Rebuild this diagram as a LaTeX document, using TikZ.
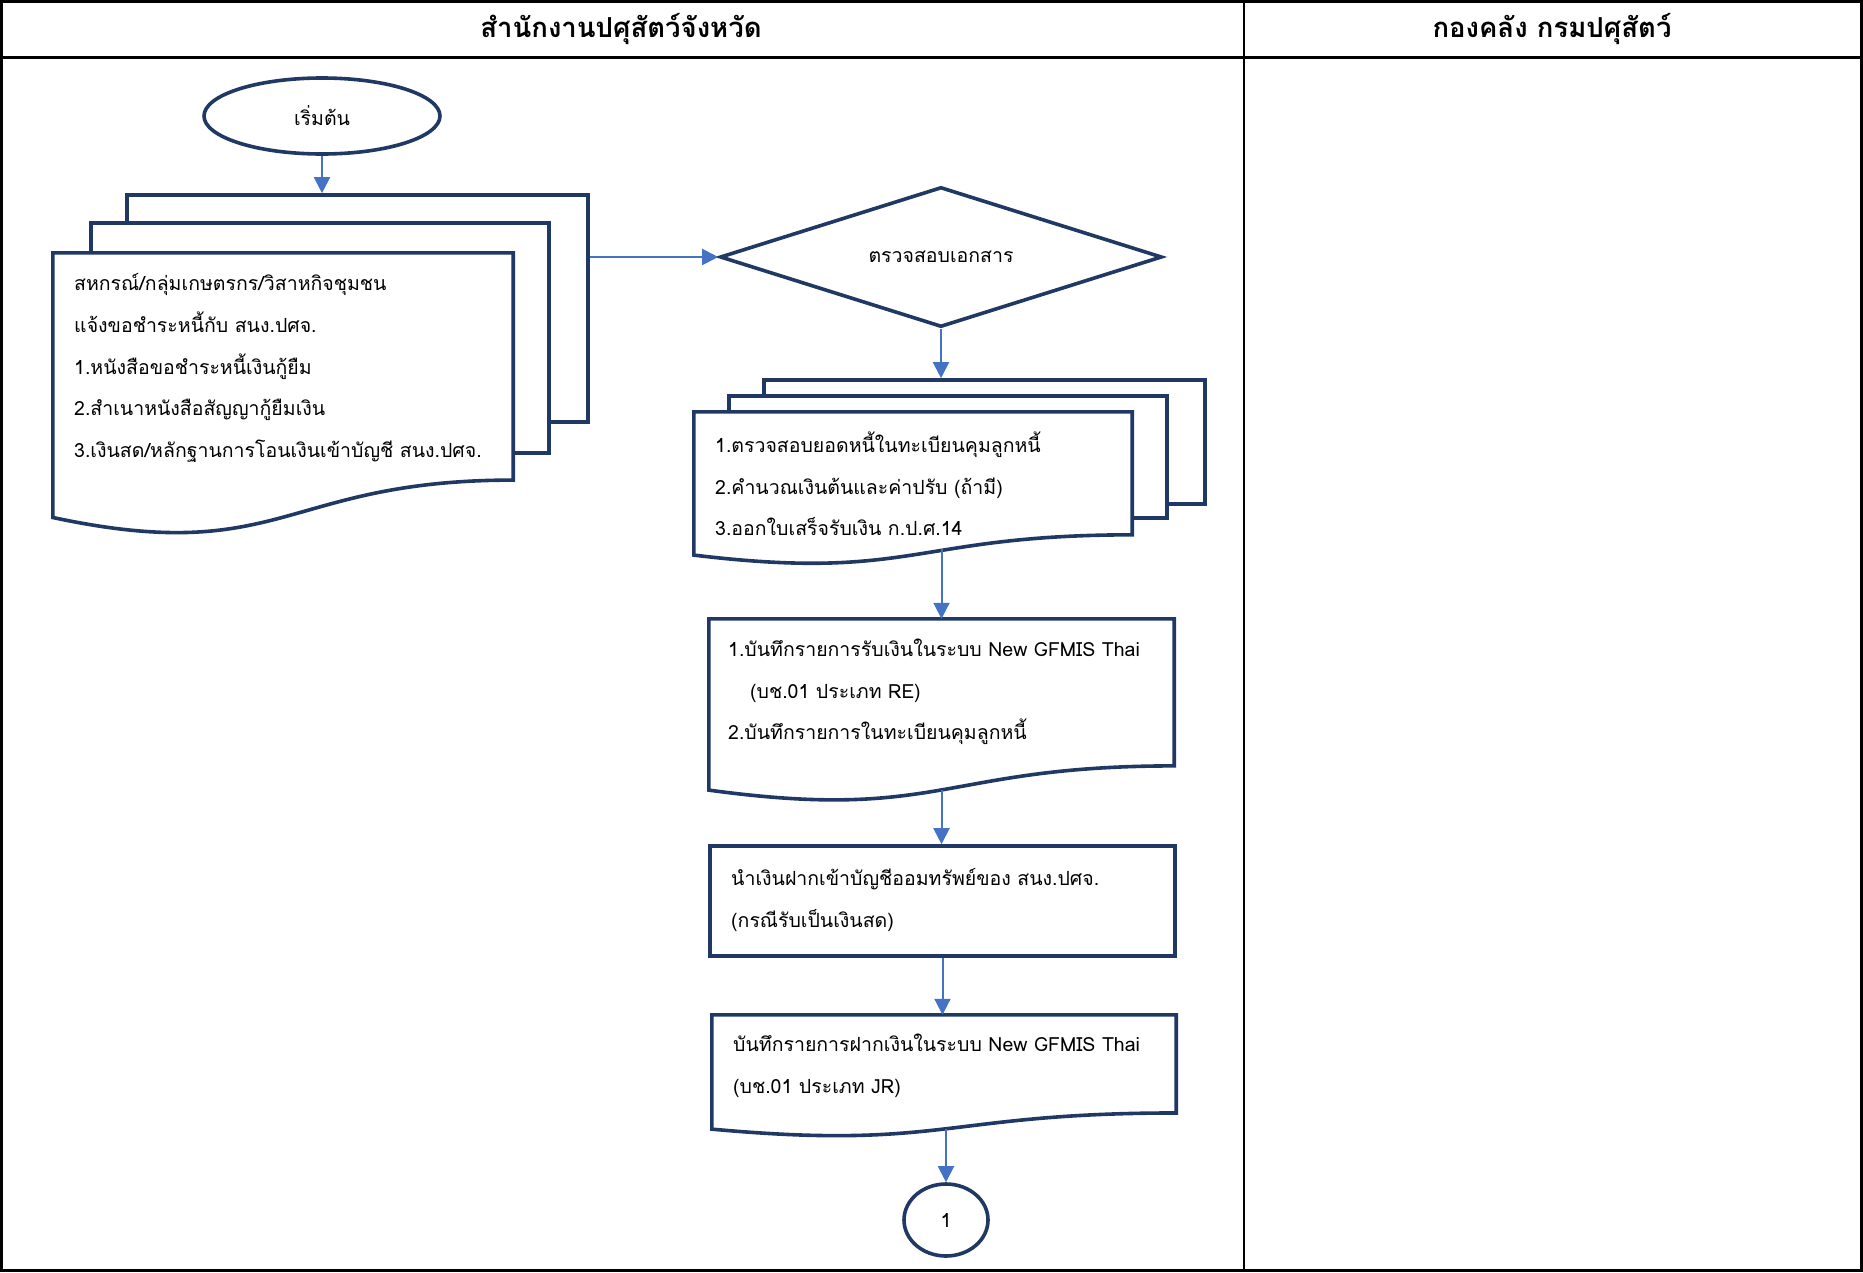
\documentclass[tikz,border=0pt]{standalone}
\usepackage{fontspec}
\setmainfont[Script=Thai]{Loma}
\usetikzlibrary{shapes.geometric,arrows.meta,calc}
\definecolor{navy}{HTML}{1F3864}
\definecolor{flecha}{HTML}{4472C4}

% hoja con borde ondulado
\newcommand{\hoja}[1]{%
  \draw[sheet] (#1.north west) -- (#1.north east)
    -- ($(#1.north east)!0.802!(#1.south east)$)
    .. controls ($(#1.north)!0.802!(#1.south)$) and ($(#1.north)!1.1075!(#1.south)$)
    .. ($(#1.north west)!0.934!(#1.south west)$) -- cycle;}

\begin{document}
\begin{tikzpicture}[x=1pt,y=-1pt,
    sheet/.style={draw=navy,line width=3.6pt,fill=white},
    box/.style={sheet,rectangle,inner sep=0pt},
    frame/.style={rectangle,inner sep=0pt},
    lbl/.style={font=\fontsize{19.5}{24}\selectfont},
    txt/.style={align=left,inner sep=0pt,anchor=west,font=\fontsize{19.5}{41.6}\selectfont},
    flow/.style={draw=flecha,line width=2pt,-{Triangle[length=16pt,width=16pt]}},
    grid/.style={draw=black,line width=2.2pt}]
    \useasboundingbox (0,0) rectangle (1863,1272);

    % Tabla
    \draw[grid] (1.5,1.5) rectangle (1861.5,1270.5);
    \draw[grid,line width=3pt] (0,57) -- (1863,57);
    \draw[grid] (1244,0) -- (1244,1272);
    \node[font=\fontsize{27.5}{32}\selectfont\bfseries] (hdl) at (621,29) {สำนักงานปศุสัตว์จังหวัด};
    \node[font=\fontsize{27.5}{32}\selectfont\bfseries] (hdr) at (1552,29) {กองคลัง กรมปศุสัตว์};

    % Inicio
    \node[sheet,lbl,ellipse,inner sep=0pt,minimum width=236pt,minimum height=76pt] (start) at (322,116) {เริ่มต้น};

    % Documentos del solicitante
    \node[box,minimum width=461pt,minimum height=227pt] (m1b) at (357.5,308.5) {};
    \node[box,minimum width=458pt,minimum height=230pt] (m1m) at (320,338) {};
    \node[frame,minimum width=460pt,minimum height=283pt] (d1) at (283,394.5) {};
    \hoja{d1}
    \node[txt] (d1t) at (74,368) {สหกรณ์/กลุ่มเกษตรกร/วิสาหกิจชุมชน\\
        แจ้งขอชำระหนี้กับ สนง.ปศจ.\\
        1.หนังสือขอชำระหนี้เงินกู้ยืม\\
        2.สำเนาหนังสือสัญญากู้ยืมเงิน\\
        3.เงินสด/หลักฐานการโอนเงินเข้าบัญชี สนง.ปศจ.};

    % Decision
    \node[sheet,lbl,diamond,aspect=3.16,inner sep=0pt,minimum width=442pt,minimum height=140pt] (chk) at (941,257) {ตรวจสอบเอกสาร};

    % Verificacion
    \node[box,minimum width=441pt,minimum height=124pt] (m2b) at (984.5,442) {};
    \node[box,minimum width=438pt,minimum height=122pt] (m2m) at (948,457) {};
    \node[frame,minimum width=438pt,minimum height=153pt] (d2) at (913,488.5) {};
    \hoja{d2}
    \node[txt] (d2t) at (715,484) {1.ตรวจสอบยอดหนี้ในทะเบียนคุมลูกหนี้\\
        2.คำนวณเงินต้นและค่าปรับ (ถ้ามี)\\
        3.ออกใบเสร็จรับเงิน ก.ป.ศ.14};

    % Registro
    \node[frame,minimum width=465pt,minimum height=183pt] (rec) at (941.5,710.5) {};
    \hoja{rec}
    \node[txt] (rect) at (728,692) {1.บันทึกรายการรับเงินในระบบ New GFMIS Thai\\
        \hspace{22pt}(บช.01 ประเภท RE)\\
        2.บันทึกรายการในทะเบียนคุมลูกหนี้};

    % Deposito
    \node[box,minimum width=465pt,minimum height=110pt] (dep) at (942.5,901) {};
    \node[txt] (dept) at (731,900) {นำเงินฝากเข้าบัญชีออมทรัพย์ของ สนง.ปศจ.\\
        (กรณีรับเป็นเงินสด)};

    % GFMIS
    \node[frame,minimum width=464pt,minimum height=122pt] (gl) at (944,1076) {};
    \hoja{gl}
    \node[txt] (glt) at (733,1066) {บันทึกรายการฝากเงินในระบบ New GFMIS Thai\\
        (บช.01 ประเภท JR)};

    % Conector
    \node[sheet,lbl,ellipse,inner sep=0pt,minimum width=84pt,minimum height=72pt] (one) at (946,1220) {1};

    % Flechas
    \coordinate (recout) at ($(rec.north)!0.933!(rec.south)$);
    \coordinate (glout) at ($(gl.north)!0.933!(gl.south)$);
    \draw[flow] (start.south) -- (start.south |- m1b.north);
    \draw[flow] (chk.west -| m1b.east) -- (chk.west);
    \draw[flow] (chk.south) -- (chk.south |- m2b.north);
    \draw[flow] ([yshift=16pt]d2.south -| rec.north) -- (rec.north);
    \draw[flow] (recout) -- (recout |- dep.north);
    \draw[flow] (dep.south) -- (dep.south |- gl.north);
    \draw[flow] (glout -| one.north) -- (one.north);
\end{tikzpicture}
\end{document}
